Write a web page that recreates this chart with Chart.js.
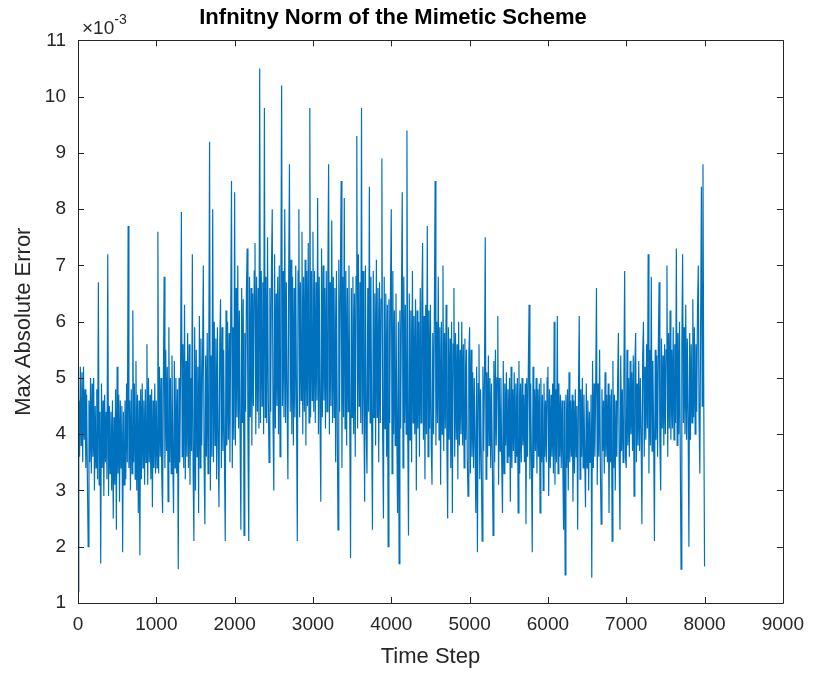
<!DOCTYPE html>
<html>
<head>
<meta charset="utf-8">
<script src="https://cdn.jsdelivr.net/npm/chart.js@4"></script>
<style>
  html, body { margin: 0; padding: 0; background: #fff; }
  #wrap { width: 814px; height: 673px; }
</style>
</head>
<body>
<div id="wrap"><canvas id="errchart" width="814" height="673"></canvas></div>
<script>
// max abs error (x 1e-3), one value every 10 time steps, one array per 1000 steps
var stepEvery = 10;
var err0 = [1.2, 4.6, 3.6, 5.2, 3.8, 5.1, 3.5, 5.2, 3.9, 4.8, 3.4, 4.7, 3.2, 2.0, 4.6, 3.5, 5.0, 3.3, 4.9, 3.6,
            5.0, 3.0, 4.5, 3.4, 4.8, 3.2, 6.7, 3.1, 4.4, 1.7, 4.9, 3.4, 4.6, 2.9, 4.7, 3.5, 4.4, 3.2, 7.2, 2.9,
            4.5, 3.3, 4.4, 3.0, 4.6, 2.5, 4.3, 3.1, 4.8, 2.3, 5.2, 3.3, 4.7, 2.8, 4.6, 3.4, 4.5, 1.9, 4.4, 3.1,
            4.6, 3.2, 4.9, 3.5, 7.7, 3.4, 4.6, 3.0, 4.8, 3.3, 6.2, 3.5, 4.9, 3.2, 5.3, 3.0, 4.7, 2.6, 4.6, 1.85,
            4.8, 3.2, 4.9, 3.4, 4.6, 3.1, 4.8, 3.5, 5.6, 3.1, 5.0, 3.5, 4.7, 3.2, 4.8, 2.7, 4.6, 3.4, 4.9, 3.3];
var err1 = [4.6, 3.4, 7.6, 3.3, 5.2, 3.6, 5.0, 3.2, 2.6, 4.9, 6.8, 3.4, 5.5, 3.7, 5.2, 2.8, 5.9, 3.5, 5.0, 3.3,
            5.4, 3.6, 2.6, 5.3, 3.4, 5.0, 3.3, 4.8, 1.6, 5.0, 3.5, 5.2, 7.95, 3.6, 5.6, 3.4, 6.3, 3.2, 5.3, 3.6,
            5.8, 3.4, 5.6, 3.1, 5.0, 3.7, 7.2, 3.3, 2.1, 5.9, 3.0, 5.5, 3.6, 5.2, 2.6, 6.1, 3.4, 5.7, 3.8, 5.3,
            7.0, 3.5, 2.4, 5.4, 3.6, 5.8, 3.3, 5.5, 9.2, 3.0, 5.4, 3.6, 8.0, 3.5, 6.0, 3.8, 5.7, 3.2, 5.9, 3.8,
            2.7, 5.6, 6.4, 3.4, 5.9, 3.7, 5.5, 3.6, 2.1, 6.2, 3.8, 6.0, 3.9, 5.8, 3.5, 6.1, 8.5, 3.4, 5.9, 3.9];
var err2 = [8.3, 3.8, 6.6, 4.3, 7.0, 4.1, 6.2, 3.9, 2.3, 6.6, 4.2, 6.4, 2.2, 5.8, 4.4, 6.5, 7.3, 4.0, 2.1, 6.8,
            4.3, 6.6, 3.8, 6.5, 4.5, 6.9, 7.4, 4.0, 6.8, 4.4, 6.6, 4.1, 10.5, 4.2, 6.9, 4.5, 6.7, 4.0, 9.8, 4.3,
            6.8, 4.2, 7.5, 4.6, 3.5, 6.6, 4.4, 6.9, 8.0, 4.2, 3.0, 7.2, 4.1, 6.5, 4.5, 6.8, 4.0, 7.0, 3.6, 6.6,
            10.2, 4.5, 6.9, 4.3, 8.0, 4.2, 6.7, 4.6, 3.2, 6.8, 8.8, 4.4, 7.1, 4.0, 6.8, 3.8, 6.6, 4.3, 7.0, 4.5,
            2.1, 6.9, 8.0, 4.3, 6.7, 4.6, 7.6, 4.0, 6.8, 4.4, 7.1, 3.8, 6.9, 4.5, 7.4, 4.2, 9.8, 4.3, 6.9, 4.6];
var err3 = [7.6, 4.4, 6.9, 4.2, 6.7, 4.6, 8.2, 4.0, 6.8, 4.3, 2.8, 7.3, 4.3, 7.0, 4.6, 6.6, 4.1, 6.9, 4.4, 6.8,
            8.8, 4.0, 6.7, 4.5, 7.8, 4.2, 6.8, 4.3, 6.6, 3.5, 6.9, 4.2, 2.3, 7.1, 4.4, 6.7, 8.5, 3.4, 6.8, 4.3,
            8.2, 4.1, 6.9, 3.8, 6.6, 4.4, 7.0, 4.2, 1.8, 6.6, 4.3, 6.8, 4.0, 6.5, 3.6, 6.8, 9.3, 4.1, 7.2, 4.5,
            6.7, 4.2, 9.8, 4.0, 6.9, 4.4, 2.8, 7.0, 4.1, 3.3, 6.6, 4.4, 8.4, 4.2, 6.8, 4.0, 2.3, 6.9, 4.3, 6.5,
            3.8, 7.1, 4.3, 6.6, 3.5, 6.7, 4.2, 6.4, 8.9, 4.0, 2.5, 6.8, 4.1, 6.5, 3.6, 6.3, 2.0, 6.4, 4.2, 6.6];
var err4 = [8.0, 3.3, 6.9, 4.0, 6.2, 3.8, 6.5, 4.2, 2.6, 6.0, 1.7, 6.2, 4.1, 6.4, 8.3, 3.4, 6.8, 4.2, 6.3, 4.0,
            9.4, 4.1, 2.2, 6.5, 3.9, 6.2, 3.5, 6.9, 4.2, 6.1, 4.0, 6.4, 3.0, 6.2, 4.1, 6.0, 3.6, 6.6, 4.2, 6.3,
            7.4, 3.9, 6.1, 3.2, 6.3, 4.0, 7.7, 3.6, 6.2, 4.1, 6.3, 3.8, 3.1, 5.8, 4.0, 6.1, 8.5, 3.8, 6.0, 4.2,
            6.8, 3.9, 5.9, 3.1, 6.0, 4.0, 7.0, 3.7, 5.8, 4.1, 6.3, 3.8, 2.5, 5.9, 3.9, 5.7, 3.4, 6.0, 2.6, 5.6,
            6.6, 3.6, 5.8, 3.9, 5.6, 3.2, 6.0, 3.8, 5.5, 4.0, 6.0, 3.8, 5.6, 3.4, 5.7, 3.9, 5.5, 3.6, 2.9, 5.4];
var err5 = [5.9, 3.3, 5.5, 3.6, 5.1, 3.4, 5.0, 3.8, 2.6, 5.2, 1.9, 4.9, 5.6, 3.2, 4.8, 3.5, 2.1, 5.2, 3.7, 5.0,
            7.5, 3.2, 5.1, 3.6, 5.4, 3.8, 5.0, 3.4, 4.9, 3.6, 2.2, 5.3, 3.5, 5.5, 3.8, 5.0, 6.1, 3.1, 5.0, 3.7,
            5.0, 3.5, 2.6, 5.3, 3.3, 4.9, 3.8, 5.1, 3.5, 4.8, 3.6, 5.0, 2.8, 5.2, 3.4, 4.8, 3.7, 5.1, 3.5, 4.9,
            3.6, 5.0, 2.6, 5.3, 3.3, 4.9, 3.5, 5.0, 3.8, 4.7, 3.5, 4.9, 2.4, 5.0, 3.6, 5.2, 6.3, 3.2, 4.9, 3.5,
            1.9, 5.2, 3.4, 4.8, 3.7, 5.0, 3.3, 4.8, 3.6, 4.9, 2.6, 5.0, 3.5, 4.7, 3.0, 4.9, 3.6, 4.6, 3.5, 5.0];
var err6 = [5.2, 2.9, 4.8, 3.4, 4.7, 3.6, 4.9, 3.3, 6.0, 3.1, 4.8, 3.5, 6.1, 3.3, 4.9, 3.6, 4.7, 3.4, 4.6, 3.5,
            2.3, 4.6, 1.5, 4.7, 3.4, 4.8, 3.0, 5.1, 3.5, 4.6, 3.6, 4.7, 2.8, 4.6, 3.3, 4.8, 3.6, 4.5, 2.3, 4.7,
            6.1, 3.2, 4.8, 3.6, 5.0, 3.4, 4.7, 3.6, 2.7, 4.9, 3.4, 4.6, 3.0, 4.4, 3.5, 4.7, 1.45, 5.3, 3.4, 4.9,
            3.6, 4.8, 6.6, 3.1, 4.9, 3.6, 5.5, 3.4, 2.4, 4.8, 3.7, 4.6, 3.3, 5.1, 3.6, 4.7, 3.5, 4.9, 2.6, 4.7,
            3.5, 4.8, 2.1, 5.3, 3.4, 4.7, 3.0, 4.6, 3.6, 4.9, 5.8, 3.5, 2.3, 5.4, 3.7, 4.8, 3.5, 5.0, 6.9, 3.6];
var err7 = [3.4, 5.5, 3.8, 5.0, 3.6, 5.3, 4.0, 5.1, 3.7, 5.4, 2.9, 5.2, 5.8, 3.5, 4.9, 3.8, 5.3, 3.7, 5.0, 4.0,
            2.4, 5.4, 6.0, 3.6, 5.2, 3.9, 5.6, 4.1, 7.2, 3.3, 5.5, 3.8, 6.8, 3.7, 5.3, 4.0, 2.1, 5.5, 3.9, 5.4,
            3.6, 5.6, 6.7, 3.8, 3.0, 5.7, 4.1, 5.4, 3.8, 5.6, 4.0, 5.5, 7.0, 3.6, 5.8, 4.1, 6.2, 3.9, 5.5, 4.1,
            5.9, 3.9, 5.6, 4.2, 7.3, 3.8, 5.8, 4.0, 6.0, 3.7, 1.6, 5.6, 7.2, 4.2, 5.9, 4.0, 6.3, 3.9, 5.7, 4.3,
            2.0, 5.8, 3.9, 5.6, 4.2, 6.4, 4.3, 5.9, 4.0, 5.6, 4.4, 6.2, 7.0, 4.3, 3.3, 6.0, 8.4, 4.5, 8.8, 4.6,
            1.65];

var xTicks = [0, 1000, 2000, 3000, 4000, 5000, 6000, 7000, 8000, 9000];
var yTicks = [1, 2, 3, 4, 5, 6, 7, 8, 9, 10, 11];

var errors = err0.concat(err1, err2, err3, err4, err5, err6, err7);
var steps = errors.map(function (v, i) { return i * stepEvery; });

var lineColor = '#0072BD';
var axisColor = '#262626';
var fontFamily = '"Liberation Sans", Arial, Helvetica, sans-serif';

// MATLAB style box with inward ticks and the exponent label
var matlabAxes = {
    id: 'matlabAxes',
    afterDatasetsDraw: function (chart) {
        var ctx = chart.ctx;
        var a = chart.chartArea;
        var xs = chart.scales.x, ys = chart.scales.y;
        var tl = 6;
        ctx.save();
        ctx.strokeStyle = axisColor;
        ctx.lineWidth = 1;
        ctx.beginPath();
        ctx.rect(Math.round(a.left) + 0.5, Math.round(a.top) + 0.5,
                 Math.round(a.right - a.left), Math.round(a.bottom - a.top));
        xTicks.forEach(function (t) {
            var px = Math.round(xs.getPixelForValue(t)) + 0.5;
            ctx.moveTo(px, a.bottom); ctx.lineTo(px, a.bottom - tl);
            ctx.moveTo(px, a.top); ctx.lineTo(px, a.top + tl);
        });
        yTicks.forEach(function (t) {
            var py = Math.round(ys.getPixelForValue(t)) + 0.5;
            ctx.moveTo(a.left, py); ctx.lineTo(a.left + tl, py);
            ctx.moveTo(a.right, py); ctx.lineTo(a.right - tl, py);
        });
        ctx.stroke();

        ctx.fillStyle = axisColor;
        ctx.textBaseline = 'alphabetic';
        ctx.textAlign = 'left';
        ctx.font = '19px ' + fontFamily;
        ctx.fillText('\u00d710', a.left + 4, a.top - 6);
        var w = ctx.measureText('\u00d710').width;
        ctx.font = '14px ' + fontFamily;
        ctx.fillText('-3', a.left + 4 + w, a.top - 16);
        ctx.restore();
    }
};

function renderChart() {
    var ctx = document.getElementById('errchart').getContext('2d');
    new Chart(ctx, {
        type: 'line',
        data: {
            labels: steps,
            datasets: [{
                data: errors,
                borderColor: lineColor,
                borderWidth: 1.2,
                pointRadius: 0,
                tension: 0,
                fill: false
            }]
        },
        options: {
            responsive: false,
            animation: false,
            layout: { padding: { top: 0, right: 28, bottom: 0, left: 0 } },
            plugins: {
                legend: { display: false },
                tooltip: { enabled: false },
                title: {
                    display: true,
                    text: 'Infnitny Norm of the Mimetic Scheme',
                    color: '#000',
                    font: { family: fontFamily, size: 22, weight: 'bold' },
                    padding: { top: 5, bottom: 9 }
                }
            },
            scales: {
                x: {
                    type: 'linear',
                    min: 0,
                    max: 9000,
                    grid: { display: false, drawTicks: false },
                    border: { display: false },
                    afterBuildTicks: function (s) { s.ticks = xTicks.map(function (v) { return { value: v }; }); },
                    afterFit: function (s) { s.height = 70; },
                    ticks: {
                        color: axisColor,
                        padding: 10,
                        maxRotation: 0,
                        font: { family: fontFamily, size: 19 },
                        callback: function (v) { return String(v); }
                    },
                    title: {
                        display: true,
                        text: 'Time Step',
                        color: axisColor,
                        font: { family: fontFamily, size: 22 },
                        padding: { top: 0, bottom: 3 }
                    }
                },
                y: {
                    min: 1,
                    max: 11,
                    grid: { display: false, drawTicks: false },
                    border: { display: false },
                    afterBuildTicks: function (s) { s.ticks = yTicks.map(function (v) { return { value: v }; }); },
                    afterFit: function (s) { s.width = 78; },
                    ticks: {
                        color: axisColor,
                        padding: 12,
                        font: { family: fontFamily, size: 19 },
                        callback: function (v) { return String(v); }
                    },
                    title: {
                        display: true,
                        text: 'Max Absolute Error',
                        color: axisColor,
                        font: { family: fontFamily, size: 22 },
                        padding: { top: 11, bottom: 0 }
                    }
                }
            }
        },
        plugins: [matlabAxes]
    });
}

renderChart();
</script>
</body>
</html>
